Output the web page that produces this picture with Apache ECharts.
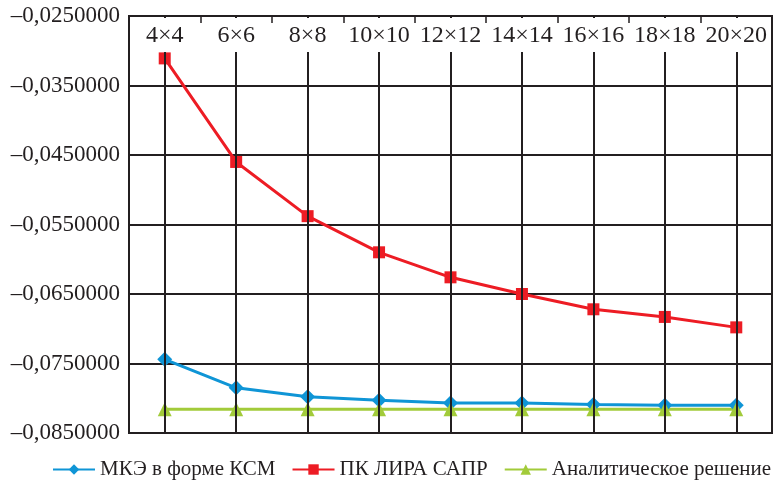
<!DOCTYPE html>
<html>
<head>
<meta charset="utf-8">
<script src="https://cdn.jsdelivr.net/npm/echarts@6/dist/echarts.min.js"></script>
<style>
    html, body { margin: 0; padding: 0; background: #fff; }
    #chart { width: 777px; height: 484px; }
</style>
</head>
<body>
<div id="chart"></div>
<script>
var categories = ['4×4', '6×6', '8×8', '10×10', '12×12', '14×14', '16×16', '18×18', '20×20'];
var mkeKsm = [-0.0744, -0.0785, -0.0798, -0.0803, -0.0807, -0.0807, -0.0809, -0.0810, -0.0810];
var liraSapr = [-0.0311, -0.0460, -0.0538, -0.0590, -0.0626, -0.0650, -0.0672, -0.0683, -0.0698];
var analytic = [-0.0816, -0.0816, -0.0816, -0.0816, -0.0816, -0.0816, -0.0816, -0.0816, -0.0816];
var seriesNames = ['МКЭ в форме КСМ', 'ПК ЛИРА САПР', 'Аналитическое решение'];

var chart = echarts.init(document.getElementById('chart'));
var font = 'Liberation Serif';
var ink = '#231f20';

//подпись оси Y в формате –0,0250000
function fmt(v) {
    return '–' + Math.abs(v).toFixed(7).replace('.', ',');
}

function line(name, data, color, symbol, size) {
    return {
        name: name,
        type: 'line',
        data: data,
        symbol: symbol,
        symbolSize: size,
        lineStyle: { color: color, width: 3 },
        itemStyle: { color: color },
        z: 3
    };
}

var option = {
    animation: false,
    grid: {
        left: 129,
        right: 5,
        top: 16,
        bottom: 51,
        show: true,
        borderColor: ink,
        borderWidth: 2
    },
    legend: {
        bottom: 4,
        left: 52,
        right: 0,
        itemWidth: 42,
        itemHeight: 13,
        itemGap: 16,
        padding: 0,
        textStyle: { fontFamily: font, fontSize: 21, color: ink },
        data: seriesNames
    },
    xAxis: {
        type: 'category',
        position: 'top',
        data: categories,
        boundaryGap: true,
        axisLine: { show: true, lineStyle: { color: ink, width: 2 } },
        axisTick: { show: true, inside: true, length: 7, lineStyle: { color: ink, width: 1.5 } },
        axisLabel: {
            inside: true,
            interval: 0,
            margin: 2,
            fontFamily: font,
            fontSize: 24,
            color: ink,
            lineHeight: 24,
            backgroundColor: '#fff',
            padding: [6, 1, 4, 1]
        },
        splitLine: { show: true, alignWithLabel: true, lineStyle: { color: ink, width: 2 } },
        z: 5
    },
    yAxis: {
        type: 'value',
        min: -0.085,
        max: -0.025,
        interval: 0.01,
        axisLine: { show: true, lineStyle: { color: ink, width: 2 } },
        axisTick: { show: false },
        axisLabel: {
            margin: 9,
            fontFamily: font,
            fontSize: 23,
            color: ink,
            formatter: fmt
        },
        splitLine: { show: true, lineStyle: { color: ink, width: 2 } }
    },
    series: [
        line(seriesNames[0], mkeKsm, '#0f95d6', 'diamond', 15),
        line(seriesNames[1], liraSapr, '#ed1c24', 'rect', 12),
        line(seriesNames[2], analytic, '#a2cb3a', 'triangle', 14)
    ]
};
chart.setOption(option);
</script>
</body>
</html>
